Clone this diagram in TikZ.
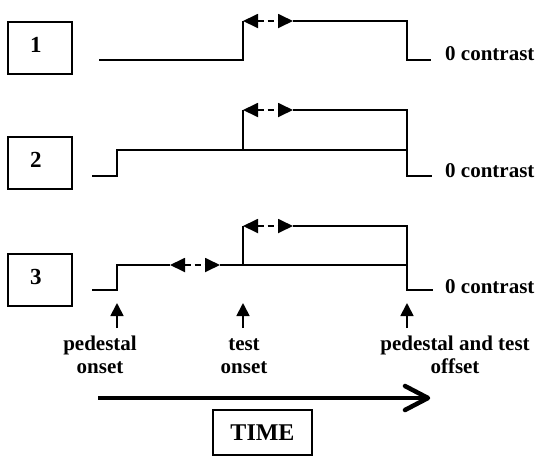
\documentclass[tikz,border=0pt]{standalone}
\usepackage{fontspec}
\setmainfont{Liberation Serif}
\usetikzlibrary{arrows.meta}
\begin{document}
\begin{tikzpicture}[x=1pt,y=-1pt,
  sig/.style={line width=1.8pt, line join=miter},
  numbox/.style={draw, line width=1.8pt, minimum width=64pt, minimum height=52pt, inner sep=0pt},
  lbl/.style={font=\bfseries\fontsize{21}{23}\selectfont, inner sep=0pt},
  numlbl/.style={font=\bfseries\fontsize{23}{25}\selectfont, inner sep=0pt},
  darrow/.style={line width=1.8pt, dash pattern=on 6pt off 4pt,
    {Triangle[length=15pt,width=14pt]}-{Triangle[length=15pt,width=14pt]}},
  uparrow/.style={line width=1.8pt, -{Triangle[length=13pt,width=13pt]}},
]
\useasboundingbox (0,0) rectangle (539,459);

% numbered boxes
\node[numbox] (b1) at (40,48) {};
\node[numbox] (b2) at (40,163) {};
\node[numbox] (b3) at (40,280) {};
\node[numlbl] (n1) at (36,45) {1};
\node[numlbl] (n2) at (36,160) {2};
\node[numlbl] (n3) at (36,277) {3};

% row 1
\draw[sig] (99,60) -- (243,60) -- (243,21);
\draw[darrow] (243,21) -- (293,21);
\draw[sig] (293,21) -- (407,21) -- (407,60) -- (431,60);
\node[lbl, anchor=base west] (c1) at (445,60) {0 contrast};

% row 2
\draw[sig] (92,176) -- (117,176) -- (117,150) -- (407,150);
\draw[sig] (243,150) -- (243,110);
\draw[darrow] (243,110) -- (293,110);
\draw[sig] (293,110) -- (407,110) -- (407,176) -- (432,176);
\node[lbl, anchor=base west] (c2) at (445,177) {0 contrast};

% row 3
\draw[sig] (92,290) -- (117,290) -- (117,265) -- (170,265);
\draw[darrow] (170,265) -- (220,265);
\draw[sig] (220,265) -- (407,265);
\draw[sig] (243,265) -- (243,226);
\draw[darrow] (243,226) -- (293,226);
\draw[sig] (293,226) -- (407,226) -- (407,290) -- (433,290);
\node[lbl, anchor=base west] (c3) at (445,293) {0 contrast};

% event markers
\coordinate (pt) at (117,303);
\coordinate (pb) at (117,328);
\coordinate (tt) at (243,303);
\coordinate (tb) at (243,328);
\coordinate (ot) at (407,303);
\coordinate (ob) at (407,328);
\draw[uparrow] (pb) -- (pt);
\draw[uparrow] (tb) -- (tt);
\draw[uparrow] (ob) -- (ot);
\node[lbl, align=center, anchor=base] (l1) at (100,373) {pedestal\\onset};
\node[lbl, align=center, anchor=base] (l2) at (244,373) {test\\onset};
\node[lbl, align=center, anchor=base] (l3) at (455,373) {pedestal and test\\offset};

% time arrow
\coordinate (ts) at (98,398);
\coordinate (te) at (428,398);
\draw[line width=4.5pt] (ts) -- (te);
\draw[line width=4.5pt, line cap=round, line join=round] (te) ++(-23,-12) -- (te) -- ++(-23,12);
\node[draw, line width=1.8pt, minimum width=99pt, minimum height=45pt, inner sep=0pt,
  font=\bfseries\fontsize{24}{26}\selectfont] (time) at (262.5,432.5) {TIME};
\end{tikzpicture}
\end{document}
